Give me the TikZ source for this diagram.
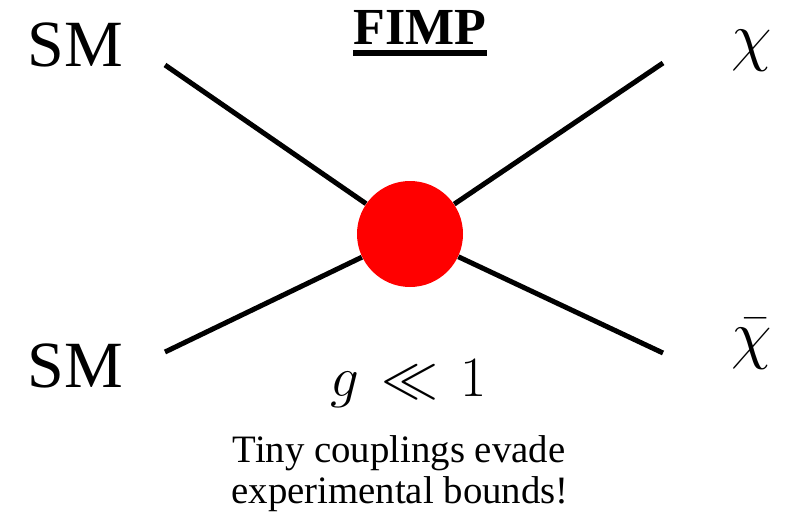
\RequirePackage{fix-cm}
\documentclass[tikz,border=0pt]{standalone}
\usepackage[no-math]{fontspec}
\setmainfont{Liberation Serif}
\newfontfamily\timesfont{Liberation Serif}
\usepackage{amsmath}
\usepackage{amssymb}
\usetikzlibrary{positioning}

\tikzset{
    leg/.style={line width=2.5pt, black},
    lbl/.style={inner sep=0pt, anchor=base, font=\timesfont\fontsize{33}{40}\selectfont},
    note/.style={inner sep=0pt, anchor=base, font=\timesfont\fontsize{19.4}{21}\selectfont}
}

\begin{document}
\begin{tikzpicture}[x=0.5pt, y=-0.5pt]
    \useasboundingbox (0,0) rectangle (797,519);

    % Points
    \coordinate (inA) at (165,65);  % SM in, top
    \coordinate (inB) at (165,352); % SM in, bottom
    \coordinate (outA) at (663,63); % chi out
    \coordinate (outB) at (663,353); % chibar out

    % Vertex blob
    \node[circle, fill=red, minimum size=53pt, inner sep=0pt] (blob) at (410,234) {};

    % Legs
    \foreach \p in {inA, inB, outA, outB}
        \draw[leg] (\p) -- (blob);

    % Particle labels
    \node[lbl] (smA) at (75,67) {SM};
    \node[lbl] (smB) at (75,387) {SM};
    \node[lbl] (chiA) at (752,59) {$\chi$};
    \node[lbl] (chiB) at (752,356) {$\bar{\chi}$};

    % Title
    \node[inner sep=0pt, anchor=base, font=\timesfont\fontsize{26}{30}\selectfont\bfseries] (title) at (420,45) {FIMP};
    \draw[line width=2.6pt] ([yshift=-4pt]title.base west) -- ([yshift=-4pt]title.base east);

    % Coupling and comment
    \node[inner sep=0pt, anchor=base, font=\fontsize{28.5}{34}\selectfont] (coup) at (409,396) {$g \mskip2mu\ll\mskip2mu 1$};
    \node[note] (noteA) at (399,462) {Tiny couplings evade};
    \node[note] (noteB) at (400,503) {experimental bounds!};
\end{tikzpicture}
\end{document}
